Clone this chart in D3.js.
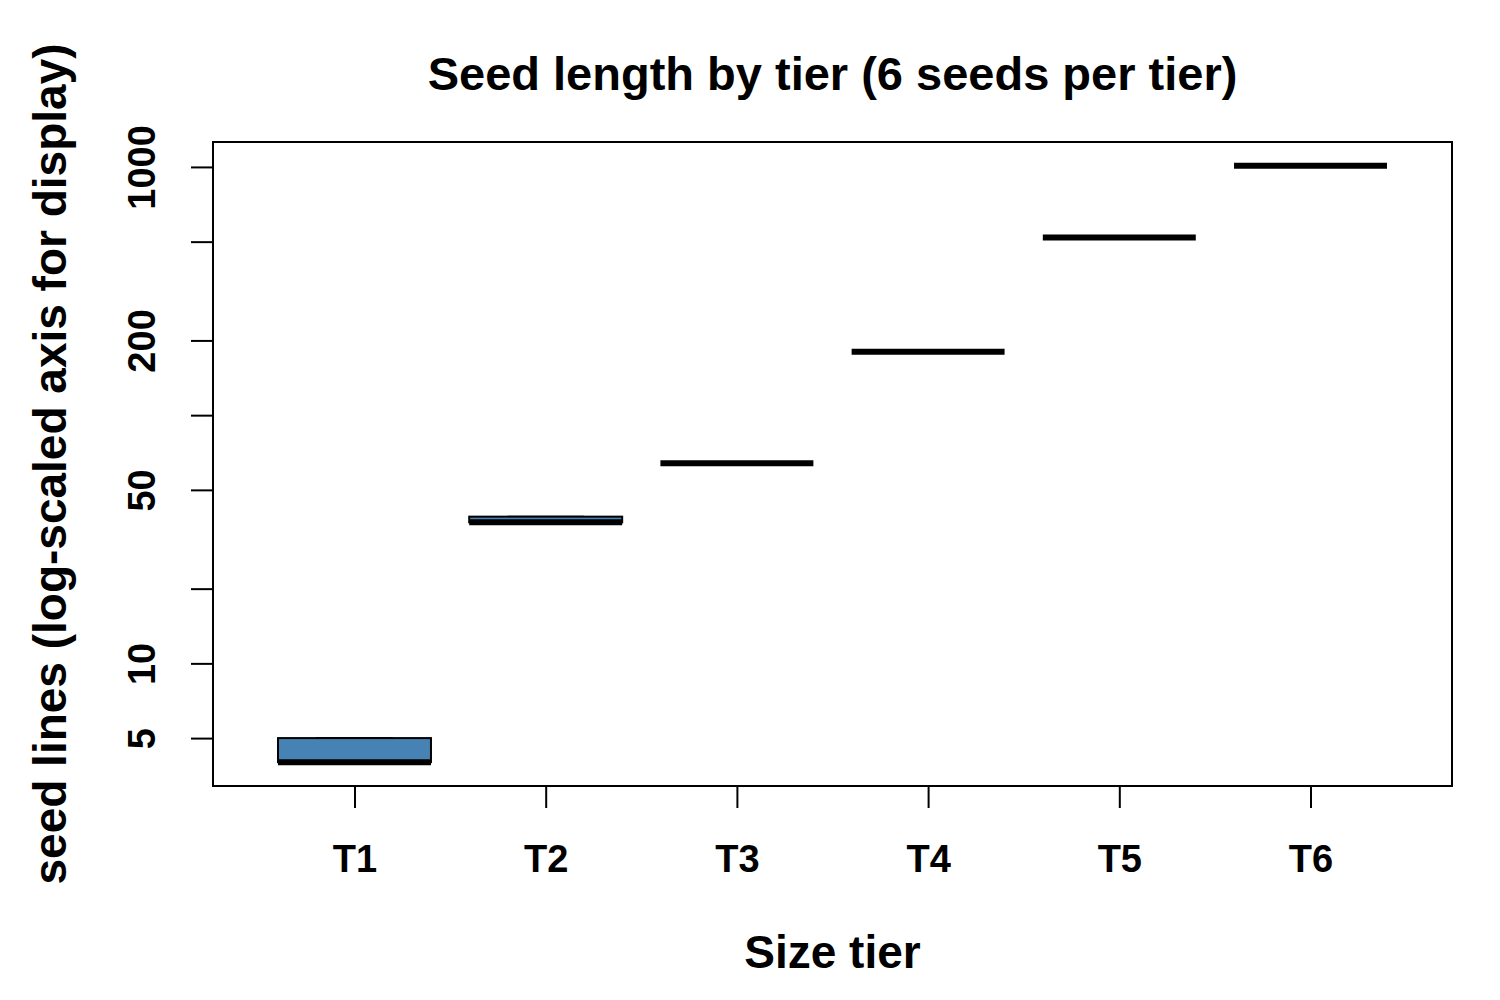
<!DOCTYPE html>
<html>
<head>
<meta charset="utf-8">
<script src="https://cdn.jsdelivr.net/npm/d3@7"></script>
<style>
body { margin: 0; background: #fff; }
text { font-family: "Liberation Sans", Arial, sans-serif; font-weight: bold; }
</style>
</head>
<body>
<script>
let tiers = ['T1', 'T2', 'T3', 'T4', 'T5', 'T6']
// six seed lengths per tier
let lengths = [
    [4, 4, 4, 4, 5, 5],
    [37, 37, 37, 37, 39, 39],
    [64, 64, 64, 64, 64, 64],
    [180, 180, 180, 180, 180, 180],
    [520, 520, 520, 520, 520, 520],
    [1010, 1010, 1010, 1010, 1010, 1010]
]
let yTicks = [5, 10, 20, 50, 100, 200, 500, 1000]
let yTickLabels = ['5', '10', '', '50', '', '200', '', '1000']
let boxColors = ['#4682B4', '#4682B4', '#4682B4', '#4682B4', '#4682B4', '#4682B4']

let width = 1500
let height = 1000
let plot = {left: 213, right: 1452, top: 142, bottom: 786}

// R style fivenum
function fivenum(v) {
    let x = v.slice().sort((a, b) => a - b)
    let n = x.length
    let n4 = Math.floor((n + 3) / 2) / 2
    let d = [1, n4, (n + 1) / 2, n + 1 - n4, n]
    return d.map(i => .5 * (x[Math.floor(i) - 1] + x[Math.ceil(i) - 1]))
}
let stats = lengths.map(fivenum)

let lo = Math.log10(d3.min(lengths.flat()))
let hi = Math.log10(d3.max(lengths.flat()))
let pad = (hi - lo) * .04
let xpad = tiers.length * .04

let x = d3.scaleLinear()
    .domain([0.5 - xpad, tiers.length + 0.5 + xpad])
    .range([plot.left, plot.right])
let y = d3.scaleLog()
    .domain([Math.pow(10, lo - pad), Math.pow(10, hi + pad)])
    .range([plot.bottom, plot.top])
let boxWidth = (x(2) - x(1)) * .8

let svg = d3.select('body')
    .append('svg')
    .attr('width', width)
    .attr('height', height)

// boxes
let g = svg.selectAll('g.box')
    .data(stats)
    .enter()
    .append('g')
    .attr('class', 'box')
    .attr('transform', (d, i) => `translate(${x(i + 1)},0)`)

g.append('line')
    .attr('x1', 0).attr('x2', 0)
    .attr('y1', d => y(d[0])).attr('y2', d => y(d[1]))
    .attr('stroke', 'black').attr('stroke-width', 2).attr('stroke-dasharray', '6,6')
g.append('line')
    .attr('x1', 0).attr('x2', 0)
    .attr('y1', d => y(d[3])).attr('y2', d => y(d[4]))
    .attr('stroke', 'black').attr('stroke-width', 2).attr('stroke-dasharray', '6,6')
g.append('line')
    .attr('x1', -boxWidth / 4).attr('x2', boxWidth / 4)
    .attr('y1', d => y(d[0])).attr('y2', d => y(d[0]))
    .attr('stroke', 'black').attr('stroke-width', 2)
g.append('line')
    .attr('x1', -boxWidth / 4).attr('x2', boxWidth / 4)
    .attr('y1', d => y(d[4])).attr('y2', d => y(d[4]))
    .attr('stroke', 'black').attr('stroke-width', 2)
g.append('rect')
    .attr('x', -boxWidth / 2)
    .attr('width', boxWidth)
    .attr('y', d => y(d[3]))
    .attr('height', d => y(d[1]) - y(d[3]))
    .attr('fill', (d, i) => boxColors[i])
    .attr('stroke', 'black')
    .attr('stroke-width', 2)
g.append('line')
    .attr('x1', -boxWidth / 2).attr('x2', boxWidth / 2)
    .attr('y1', d => y(d[2])).attr('y2', d => y(d[2]))
    .attr('stroke', 'black').attr('stroke-width', 6)

// frame
svg.append('rect')
    .attr('x', plot.left)
    .attr('y', plot.top)
    .attr('width', plot.right - plot.left)
    .attr('height', plot.bottom - plot.top)
    .attr('fill', 'none')
    .attr('stroke', 'black')
    .attr('stroke-width', 2)

// y axis
let yAxis = d3.axisLeft(y)
    .tickValues(yTicks)
    .tickFormat((d, i) => yTickLabels[i])
    .tickSize(22)
    .tickPadding(0)
let ya = svg.append('g')
    .attr('transform', `translate(${plot.left},0)`)
    .call(yAxis)
ya.select('.domain').remove()
ya.selectAll('.tick line').attr('stroke-width', 2)
ya.selectAll('.tick text')
    .attr('x', 0)
    .attr('y', 0)
    .attr('dy', 0)
    .attr('transform', 'translate(-58,0) rotate(-90)')
    .attr('text-anchor', 'middle')
    .attr('font-size', 38)
    .attr('fill', 'black')

// x axis
let xAxis = d3.axisBottom(x)
    .tickValues(d3.range(1, tiers.length + 1))
    .tickFormat(d => tiers[d - 1])
    .tickSize(22)
let xa = svg.append('g')
    .attr('transform', `translate(0,${plot.bottom})`)
    .call(xAxis)
xa.select('.domain').remove()
xa.selectAll('.tick line').attr('stroke-width', 2)
xa.selectAll('.tick text')
    .attr('y', 86)
    .attr('dy', 0)
    .attr('font-size', 38)
    .attr('fill', 'black')

// titles
svg.append('text')
    .attr('x', (plot.left + plot.right) / 2)
    .attr('y', 90)
    .attr('text-anchor', 'middle')
    .attr('font-size', 47)
    .text('Seed length by tier (6 seeds per tier)')
svg.append('text')
    .attr('x', (plot.left + plot.right) / 2)
    .attr('y', 968)
    .attr('text-anchor', 'middle')
    .attr('font-size', 46)
    .text('Size tier')
svg.append('text')
    .attr('transform', `translate(66,${(plot.top + plot.bottom) / 2}) rotate(-90)`)
    .attr('text-anchor', 'middle')
    .attr('font-size', 46)
    .text('seed lines (log-scaled axis for display)')
</script>
</body>
</html>
